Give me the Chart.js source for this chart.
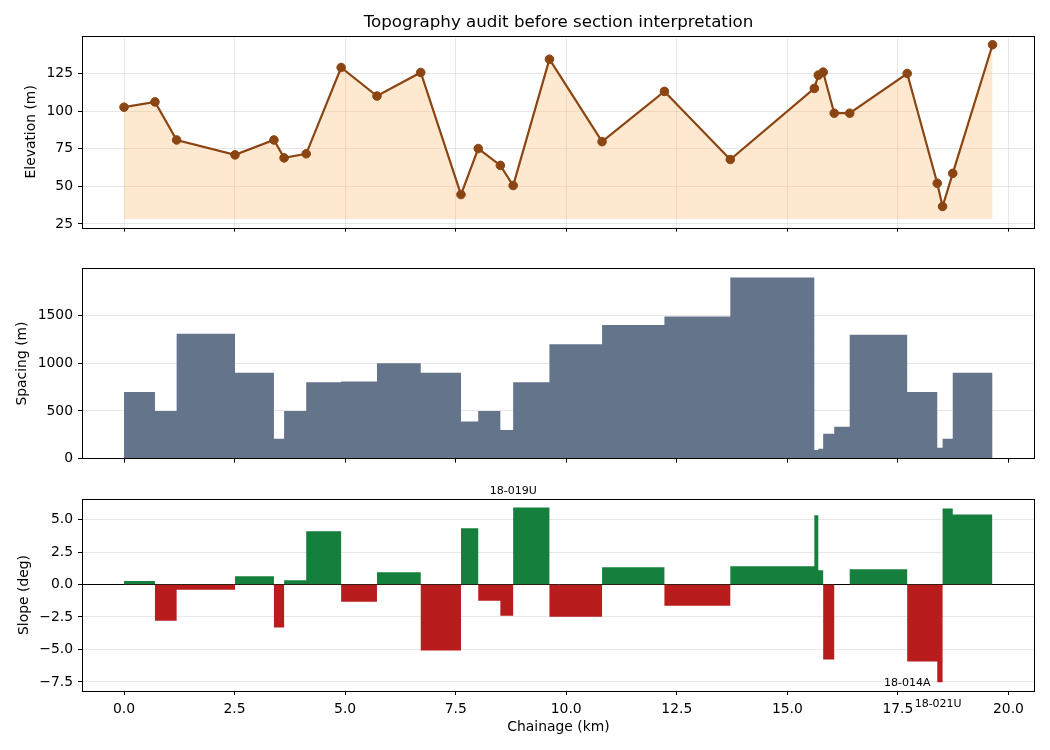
<!DOCTYPE html>
<html>
<head>
<meta charset="utf-8">
<script src="https://cdn.jsdelivr.net/npm/chart.js@4.4.1/dist/chart.umd.min.js"></script>
<style>
  body { margin: 0; background: #fff; }
  #wrap { position: relative; width: 1050px; height: 750px; }
  canvas { position: absolute; left: 0; }
</style>
</head>
<body>
<div id="wrap">
  <canvas id="elev" width="1050" height="241" style="top:0px"></canvas>
  <canvas id="spacing" width="1050" height="217" style="top:255px"></canvas>
  <canvas id="slope" width="1050" height="270" style="top:480px"></canvas>
</div>
<script>
// station chainage (km)
const chainage = [0, 0.70, 1.19, 2.51, 3.39, 3.62, 4.12, 4.91, 5.72, 6.71, 7.62, 8.01, 8.51, 8.80,
  9.62, 10.81, 12.22, 13.71, 15.61, 15.70, 15.81, 16.06, 16.41, 17.71, 18.39, 18.51, 18.74, 19.64];
// elevation at each station (m)
const elevation = [102.6, 106.1, 80.8, 70.9, 80.8, 68.9, 71.6, 129.0, 110.0, 125.7, 44.5, 75.1, 63.9, 50.5,
  134.5, 79.7, 113.1, 67.8, 115.1, 123.9, 125.9, 98.6, 98.6, 125.0, 52.0, 36.6, 58.6, 144.1];
const elevBase = 28.3;
// spacing to next station (m)
const spacing = [700, 500, 1310, 900, 210, 500, 800, 810, 1000, 900, 390, 500, 300, 800,
  1200, 1400, 1490, 1900, 90, 105, 260, 335, 1300, 700, 115, 210, 900];
// slope of each interval (deg)
const slope = [0.26, -2.79, -0.41, 0.64, -3.32, 0.33, 4.09, -1.33, 0.95, -5.09, 4.32, -1.25, -2.40, 5.93,
  -2.48, 1.33, -1.64, 1.41, 5.32, 1.10, -5.78, 0, 1.18, -5.93, -7.52, 5.85, 5.39];
// labelled stations
const annoLabels = ['18-019U', '18-014A', '18-021U'];
const annoChainage = [8.80, 17.71, 18.41];
const annoSlope = [7.2, -7.6, -9.2];

// tick values
const chainageTicks = [0, 2.5, 5, 7.5, 10, 12.5, 15, 17.5, 20];
const elevTicks = [25, 50, 75, 100, 125];
const spacingTicks = [0, 500, 1000, 1500];
const slopeTicks = [-7.5, -5, -2.5, 0, 2.5, 5];

const FONT = 'DejaVu Sans';
const TICK_PX = 13.9;
const GRID = 'rgba(176,176,176,0.3)';
Chart.defaults.color = '#000';
Chart.defaults.font.family = FONT;
Chart.defaults.font.size = TICK_PX;

const minus = s => s.replace('-', '\u2212');
const setTicks = vals => scale => { scale.ticks = vals.map(v => ({value: v})); };

// bars of variable width: hold each value until the next station
function stepPoints(vals) {
  const pts = vals.map((v, i) => ({x: chainage[i], y: v}));
  pts.push({x: chainage[vals.length], y: vals[vals.length - 1]});
  return pts;
}

const frame = {
  id: 'frame',
  afterDraw(chart) {
    const {ctx, chartArea: a} = chart;
    ctx.save();
    ctx.strokeStyle = '#000';
    ctx.lineWidth = 1;
    ctx.strokeRect(Math.round(a.left) + 0.5, Math.round(a.top) + 0.5,
      Math.round(a.right - a.left) - 1, Math.round(a.bottom - a.top));
    ctx.restore();
  }
};

function xAxis(height, showLabels, vgrid) {
  return {
    type: 'linear', min: -0.95, max: 20.6,
    afterFit: s => { s.height = height; },
    afterBuildTicks: setTicks(chainageTicks),
    border: {display: false},
    grid: {color: GRID, drawOnChartArea: vgrid, tickColor: '#000', tickLength: 4},
    ticks: {display: showLabels, padding: 6, maxRotation: 0, autoSkip: false,
      callback: v => v.toFixed(1)},
    title: showLabels ? {display: true, text: 'Chainage (km)', font: {size: TICK_PX},
      padding: {top: 0, bottom: 14}} : {display: false}
  };
}

function yAxis(opts) {
  return {
    min: opts.min, max: opts.max, z: opts.z || 0,
    afterFit: s => { s.width = 82; },
    afterBuildTicks: setTicks(opts.ticks),
    border: {display: false},
    grid: {color: opts.gridColor || GRID, tickColor: '#000', tickLength: 4},
    ticks: {padding: 5, callback: opts.fmt},
    title: {display: true, text: opts.title, font: {size: TICK_PX}, padding: {top: opts.titlePad, bottom: 0}}
  };
}

// elevation profile
new Chart(document.getElementById('elev'), {
  type: 'line',
  data: {
    datasets: [{
      data: chainage.map((c, i) => ({x: c, y: elevation[i]})),
      borderColor: '#8b4513',
      borderWidth: 2.2,
      backgroundColor: 'rgba(251,191,120,0.35)',
      fill: {value: elevBase},
      pointRadius: 4.3,
      pointBorderWidth: 1,
      pointBackgroundColor: '#8b4513',
      pointBorderColor: '#8b4513',
      tension: 0
    }]
  },
  options: {
    responsive: false, animation: false,
    layout: {padding: {left: 0, right: 15, top: 0, bottom: 0}},
    plugins: {
      legend: {display: false}, tooltip: {enabled: false},
      title: {display: true, fullSize: false, text: 'Topography audit before section interpretation',
        font: {size: 16.7, weight: 'normal'}, padding: {top: 13, bottom: 3}}
    },
    scales: {
      x: xAxis(12, false, true),
      y: yAxis({min: 22.5, max: 149.9, ticks: elevTicks, title: 'Elevation (m)', titlePad: 22.7,
        fmt: v => String(v)})
    }
  },
  plugins: [frame]
});

// spacing between stations
new Chart(document.getElementById('spacing'), {
  type: 'line',
  data: {
    datasets: [{
      data: stepPoints(spacing),
      stepped: 'before',
      borderWidth: 0,
      borderColor: 'rgba(0,0,0,0)',
      backgroundColor: '#64748b',
      fill: 'origin',
      pointRadius: 0
    }]
  },
  options: {
    responsive: false, animation: false,
    layout: {padding: {left: 0, right: 15, top: 13, bottom: 0}},
    plugins: {legend: {display: false}, tooltip: {enabled: false}},
    scales: {
      x: xAxis(12, false, false),
      y: yAxis({min: 0, max: 1995, ticks: spacingTicks, z: 1, title: 'Spacing (m)', titlePad: 13.7,
        fmt: v => String(v)})
    }
  },
  plugins: [frame]
});

const annotate = {
  id: 'annotate',
  afterDraw(chart) {
    const {ctx, scales} = chart;
    ctx.save();
    ctx.font = '11px ' + FONT;
    ctx.fillStyle = '#000';
    ctx.textAlign = 'center';
    ctx.textBaseline = 'middle';
    annoLabels.forEach((t, i) => {
      ctx.fillText(t, scales.x.getPixelForValue(annoChainage[i]), scales.y.getPixelForValue(annoSlope[i]));
    });
    ctx.restore();
  }
};

// slope per interval
new Chart(document.getElementById('slope'), {
  type: 'line',
  data: {
    datasets: [{
      data: stepPoints(slope),
      stepped: 'before',
      borderWidth: 0,
      borderColor: 'rgba(0,0,0,0)',
      fill: {target: 'origin', above: '#15803d', below: '#b91c1c'},
      pointRadius: 0
    }]
  },
  options: {
    responsive: false, animation: false,
    layout: {padding: {left: 0, right: 15, top: 19, bottom: 0}},
    plugins: {legend: {display: false}, tooltip: {enabled: false}},
    scales: {
      x: xAxis(59, true, false),
      y: yAxis({min: -8.2, max: 6.58, ticks: slopeTicks, z: 1, title: 'Slope (deg)', titlePad: 15.7,
        gridColor: ctx => ctx.tick && ctx.tick.value === 0 ? '#000' : GRID,
        fmt: v => minus(v.toFixed(1))})
    }
  },
  plugins: [frame, annotate]
});
</script>
</body>
</html>
